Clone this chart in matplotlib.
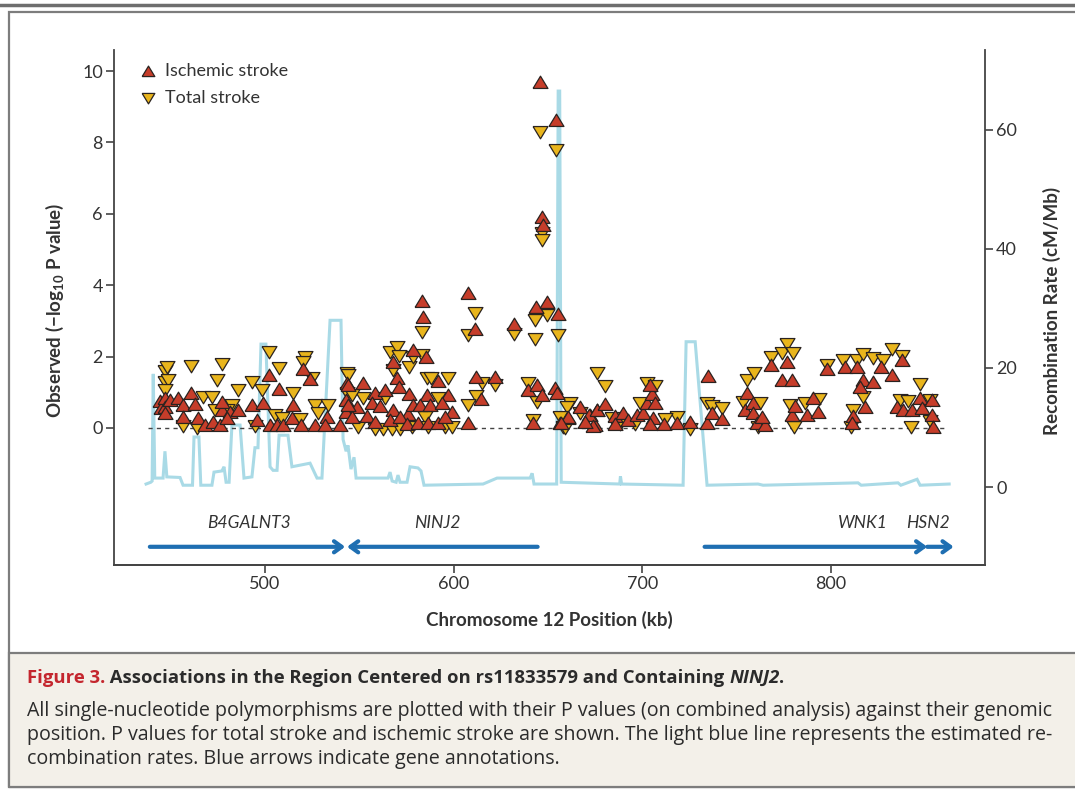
import matplotlib
matplotlib.use("Agg")
import matplotlib.pyplot as plt
from matplotlib import font_manager
from matplotlib.patches import Rectangle
from matplotlib.lines import Line2D
from matplotlib.path import Path

# recombination rate (kb, cM/Mb)
rec_kb = [437.0, 439.5, 440.2, 440.8, 441.6, 446.0, 447.0, 448.0, 455.0, 456.6,
          461.6, 462.4, 465.0, 466.0, 471.9, 473.0, 477.2, 478.3, 479.4, 481.0,
          482.5, 486.8, 488.9, 493.1, 494.7, 496.3, 497.9, 500.5, 502.7, 504.3,
          506.4, 507.5, 512.2, 514.3, 523.9, 527.6, 530.2, 534.5, 540.3, 541.4,
          543.0, 544.0, 545.6, 547.2, 548.3, 553.0, 565.2, 566.3, 567.4, 569.5,
          570.5, 571.6, 575.3, 576.9, 581.1, 582.7, 584.3, 615.6, 623.0, 640.5,
          641.6, 642.6, 654.6, 655.4, 656.2, 657.0, 688.0, 688.4, 689.0, 721.6,
          723.2, 728.0, 734.3, 761.3, 764.0, 814.3, 816.0, 835.5, 837.0, 845.6,
          847.2, 862.6]
rec_rate = [0.5, 0.8, 1.0, 19.0, 1.5, 1.5, 6.0, 1.7, 1.6, 0.3,
            0.3, 8.4, 8.4, 0.3, 0.3, 2.5, 2.7, 3.4, 0.8, 0.8,
            10.4, 10.4, 1.5, 1.7, 6.6, 6.6, 24.0, 24.0, 3.4, 2.8,
            2.8, 8.7, 8.7, 3.4, 4.0, 1.5, 1.5, 28.0, 28.0, 8.0,
            6.0, 7.0, 3.0, 5.0, 1.5, 1.5, 1.5, 2.5, 1.0, 0.8,
            2.0, 0.8, 0.8, 3.4, 3.2, 2.7, 0.3, 0.5, 1.5, 1.5,
            2.3, 0.5, 0.5, 66.5, 66.5, 0.8, 0.5, 1.8, 0.5, 0.3,
            24.4, 24.4, 0.3, 0.5, 0.3, 0.7, 0.3, 0.7, 0.3, 1.3,
            0.3, 0.5]

# ischemic stroke, -log10 P
isch_kb = [444.5, 445.0, 447.0, 447.0, 447.0, 449.7, 454.1, 456.4, 456.7, 460.7,
           462.9, 464.4, 468.2, 472.6, 476.2, 477.1, 477.4, 481.5, 485.9, 479.7,
           493.0, 495.6, 499.1, 502.3, 507.6, 502.7, 506.2, 509.7, 515.0, 514.2,
           519.0, 520.3, 523.9, 526.5, 532.7, 531.8, 539.8, 543.3, 542.8, 542.8,
           583.1, 583.9, 607.7, 611.3, 632.2, 643.5, 578.6, 585.4, 568.0, 569.8,
           571.2, 552.1, 544.2, 558.3, 563.6, 576.5, 585.7, 591.9, 597.2, 611.9,
           621.9, 614.5, 548.6, 556.6, 561.0, 567.7, 576.0, 578.6, 582.2, 587.5,
           593.7, 599.0, 546.0, 553.9, 558.3, 566.3, 571.6, 575.1, 581.3, 586.6,
           591.9, 595.4, 607.4, 641.9, 639.3, 644.0, 646.7, 544.2,
           645.8, 654.3, 647.0, 647.2, 649.3, 655.5, 653.7, 654.6, 656.4, 660.8,
           667.0, 672.3, 674.9, 675.8,
           671.9, 676.2, 680.3, 685.5, 689.6, 692.6, 697.0, 700.5, 702.3, 705.0,
           704.1, 706.7, 705.8, 704.1, 711.5, 718.5, 725.3, 674.1, 669.7, 685.5,
           660.8, 656.9,
           735.0, 734.1, 736.8, 742.1, 755.7, 754.4, 758.9, 758.9, 760.6, 765.1,
           763.3, 768.2, 776.5, 773.9, 779.2, 779.2, 780.9, 787.2, 790.3, 793.3,
           797.8, 807.5, 813.6, 817.1, 815.4, 822.4, 826.4, 832.2, 837.5, 811.8,
           811.0, 818.0, 834.9, 838.4, 842.8, 847.2, 848.1, 853.4, 853.4, 854.2]
isch_p = [0.75, 0.55, 0.83, 0.60, 0.41, 0.78, 0.83, 0.64, 0.32, 0.99,
          0.67, 0.27, 0.08, 0.18, 0.08, 0.50, 0.74, 0.46, 0.50, 0.27,
          0.64, 0.22, 0.69, 1.48, 1.08, 0.08, 0.08, 0.08, 0.64, 0.27,
          0.08, 1.64, 1.36, 0.08, 0.32, 0.08, 0.08, 1.25, 0.78, 0.46,
          3.57, 3.12, 3.79, 2.77, 2.91, 3.40, 2.18, 2.00, 1.86, 1.41,
          1.16, 1.25, 1.20, 0.97, 1.06, 0.95, 0.92, 1.32, 0.92, 1.44,
          1.44, 0.80, 0.60, 0.69, 0.62, 0.50, 0.39, 0.64, 0.64, 0.64,
          0.71, 0.46, 0.32, 0.34, 0.18, 0.22, 0.32, 0.11, 0.13, 0.13,
          0.13, 0.32, 0.13, 0.13, 1.06, 1.20, 0.92, 0.64,
          9.70, 8.63, 5.92, 5.69, 3.54, 3.19, 1.11, 0.97, 0.13, 0.27,
          0.60, 0.36, 0.08, 0.50,
          0.36, 0.50, 0.67, 0.34, 0.41, 0.22, 0.36, 0.43, 0.71, 0.95,
          1.20, 0.71, 0.27, 0.11, 0.11, 0.13, 0.18, 0.06, 0.18, 0.11,
          0.32, 0.13,
          1.46, 0.15, 0.41, 0.24, 0.99, 0.50, 0.69, 0.41, 0.13, 0.08,
          0.32, 1.76, 1.86, 1.33, 1.33, 0.36, 0.62, 0.36, 0.83, 0.46,
          1.64, 1.72, 1.70, 1.34, 1.16, 1.30, 1.70, 1.48, 1.89, 0.34,
          0.13, 0.60, 0.60, 0.50, 0.50, 0.83, 0.55, 0.78, 0.36, 0.04]

# total stroke, -log10 P
total_kb = [447.0, 447.9, 447.0, 448.8, 447.0, 460.7, 477.4, 474.8, 485.6, 467.0,
            471.8, 482.4, 493.0, 498.3, 502.3, 507.6, 515.0, 521.2, 520.0, 524.8,
            526.5, 533.6, 456.7, 463.8, 473.5, 479.7, 494.7, 505.3, 508.9, 518.6,
            528.3, 543.3, 543.3,
            583.1, 611.3, 607.4, 632.2, 643.1, 643.1, 566.3, 569.8, 571.1, 576.5,
            578.6, 583.1, 568.0, 585.7, 588.0, 597.2, 614.9, 621.9, 611.9, 607.4,
            639.3, 644.0, 642.2, 552.1, 546.0, 563.6, 558.3, 562.7, 567.2, 571.6,
            577.8, 584.8, 591.9, 595.4, 599.0, 586.6, 549.5, 544.2,
            645.8, 654.3, 647.0, 647.0, 649.3, 655.5, 661.7, 658.1, 675.8,
            680.3, 659.9, 702.3, 706.7, 698.8, 718.2, 725.3, 656.4, 667.0, 683.8,
            688.2, 696.1, 712.0, 659.0,
            734.1, 736.8, 742.1, 755.7, 759.4, 753.5, 762.4, 761.5, 768.2, 773.9,
            776.5, 779.7, 778.3, 780.6, 786.3, 793.8, 797.8, 806.5, 813.6, 817.1,
            822.1, 827.4, 832.2, 837.5, 817.1, 811.8, 810.6, 836.6, 841.0, 842.4,
            847.2, 852.5, 852.5]
total_p = [1.60, 1.70, 1.30, 1.35, 1.06, 1.74, 1.78, 1.33, 1.05, 0.88,
           0.88, 0.64, 1.30, 1.05, 2.14, 1.67, 0.99, 2.00, 1.84, 1.41,
           0.64, 0.64, 0.06, 0.00, 0.50, 0.50, 0.06, 0.36, 0.27, 0.24,
           0.41, 1.53, 0.98,
           2.70, 3.23, 2.60, 2.62, 3.03, 2.48, 2.14, 2.26, 2.02, 1.72,
           1.98, 2.04, 1.62, 1.39, 1.39, 1.39, 1.25, 1.20, 0.90, 0.64,
           1.25, 0.74, 0.22, 0.83, 0.92, 0.83, -0.04, -0.04, -0.04, -0.04,
           0.04, 0.32, 0.83, 0.04, 0.04, 0.04, 0.04, 1.48,
           8.30, 7.80, 5.45, 5.27, 3.17, 2.60, 0.69, 0.04, 1.53,
           1.18, 0.58, 1.25, 1.18, 0.69, 0.30, -0.04, 0.32, 0.43, 0.27,
           0.11, 0.11, 0.24, 0.00,
           0.71, 0.62, 0.55, 1.33, 1.55, 0.74, 0.69, 0.04, 1.98, 2.11,
           2.35, 2.11, 0.64, 0.04, 0.71, 0.80, 1.76, 1.90, 1.90, 2.07,
           1.95, 1.90, 2.20, 2.02, 0.88, 0.50, 0.02, 0.78, 0.76, 0.04,
           1.23, 0.78, 0.20]

genes = ["B4GALNT3", "NINJ2", "WNK1", "HSN2"]
gene_start = [439.0, 644.5, 733.0, 851.0]
gene_end = [542.5, 543.5, 851.0, 865.0]
gene_label_x = [491.5, 591.5, 817.0, 851.5]

installed = {f.name for f in font_manager.fontManager.ttflist}
main_font = "Lato" if "Lato" in installed else "DejaVu Sans"
cap_font = "Open Sans" if "Open Sans" in installed else main_font
plt.rcParams["font.family"] = [main_font, "DejaVu Sans"]
plt.rcParams["mathtext.fontset"] = "custom"
plt.rcParams["mathtext.bf"] = main_font + ":bold"
plt.rcParams["mathtext.rm"] = main_font

RED = "#c63d2a"
YEL = "#e9b51c"
EDGE = "#2a2320"
BLUE = "#1f6fb2"
RECOMB = "#a9dae6"
DARK = "#333333"

up = Path([(-1, -0.8), (1, -0.8), (0, 0.85), (-1, -0.8)])
down = Path([(-1, 0.8), (1, 0.8), (0, -0.85), (-1, 0.8)])

fig = plt.figure(figsize=(10.75, 7.9), dpi=100)

# frame + caption box
fig.add_artist(Line2D([0, 1], [1 - 5 / 790] * 2, lw=2.5, color="#6e6e6e"))
fig.add_artist(Rectangle((9 / 1075, 1 - 787 / 790), 1.1, (787 - 12) / 790,
                         fill=False, ec="#7d7d7d", lw=1.6))
fig.add_artist(Rectangle((9 / 1075, 1 - 787 / 790), 1.1, (787 - 653) / 790,
                         fc="#f3f0e9", ec="#7d7d7d", lw=1.6))

ax = fig.add_axes([114 / 1075, 1 - 565 / 790, 871 / 1075, 515 / 790])
ax2 = ax.twinx()
ax.set_zorder(ax2.get_zorder() + 1)
ax.patch.set_visible(False)

ax2.plot(rec_kb, rec_rate, color=RECOMB, lw=2.2, solid_joinstyle="miter")

ax.plot([438, 862], [0, 0], ls=(0, (3, 3)), color="#444444", lw=1)
ax.scatter(total_kb, total_p, marker=down, s=115, c=YEL, edgecolors=EDGE,
           linewidths=0.9, label="Total stroke", zorder=3)
ax.scatter(isch_kb, isch_p, marker=up, s=115, c=RED, edgecolors=EDGE,
           linewidths=0.9, label="Ischemic stroke", zorder=4)

# gene annotation arrows
for g, s, e, lx in zip(genes, gene_start, gene_end, gene_label_x):
    ax.annotate("", xy=(e, -3.33), xytext=(s, -3.33),
                arrowprops=dict(arrowstyle="->,head_length=0.55,head_width=0.4",
                                lw=3, color=BLUE, shrinkA=0, shrinkB=0),
                annotation_clip=False)
    ax.text(lx, -2.66, g, style="italic", fontsize=12.5, color=DARK,
            ha="center", va="center")

ax.set_xlim(420, 881.6)
ax.set_ylim(-3.84, 10.59)
ax2.set_ylim(-13.1, 73.4)
ax.set_xticks([500, 600, 700, 800])
ax.set_yticks([0, 2, 4, 6, 8, 10])
ax2.set_yticks([0, 20, 40, 60])

for a in (ax, ax2):
    a.spines["top"].set_visible(False)
    for sp in a.spines.values():
        sp.set_color("#444444")
        sp.set_linewidth(1.3)
    a.tick_params(length=6, width=1.2, color="#444444", labelsize=13,
                  labelcolor=DARK, pad=2)
ax2.spines["left"].set_visible(False)
ax.spines["right"].set_visible(False)

h, l = ax.get_legend_handles_labels()
ax.legend(h[::-1], l[::-1], loc="upper left", bbox_to_anchor=(0.03, 0.975),
          frameon=False, fontsize=13, handlelength=0.9, handletextpad=0.45,
          labelspacing=0.62, borderaxespad=0, borderpad=0, labelcolor=DARK,
          markerscale=0.85)

fig.text(55 / 1075, 1 - 310 / 790, r"Observed (−log$_{\mathbf{10}}$ P value)",
         rotation=90, ha="center", va="center", fontsize=13.5,
         fontweight="bold", color=DARK)
fig.text(1052 / 1075, 1 - 311 / 790, "Recombination Rate (cM/Mb)",
         rotation=90, ha="center", va="center", fontsize=13.5,
         fontweight="bold", color=DARK)
fig.text(549 / 1075, 1 - 620 / 790, "Chromosome 12 Position (kb)",
         ha="center", va="center", fontsize=13.5, fontweight="bold", color=DARK)

# caption
ttl = dict(fontsize=13.3, family=[cap_font, "DejaVu Sans"], color="#2b2b2b",
           fontweight="bold")
t1 = fig.text(27 / 1075, 1 - 678 / 790, "Figure 3.", va="center", ha="left",
              **dict(ttl, color="#c4262e"))
t2 = ax.annotate(" Associations in the Region Centered on rs11833579 and Containing ",
                 xy=(1, 0), xycoords=t1, va="bottom", ha="left", **ttl)
t3 = ax.annotate("NINJ2", xy=(1, 0), xycoords=t2, va="bottom", ha="left",
                 style="italic", **ttl)
ax.annotate(".", xy=(1, 0), xycoords=t3, va="bottom", ha="left", **ttl)

body = ["All single-nucleotide polymorphisms are plotted with their P values (on combined analysis) against their genomic",
        "position. P values for total stroke and ischemic stroke are shown. The light blue line represents the estimated re-",
        "combination rates. Blue arrows indicate gene annotations."]
for i, line in enumerate(body):
    fig.text(27 / 1075, 1 - (711 + 24 * i) / 790, line, va="center",
             ha="left", fontsize=14.1, family=[cap_font, "DejaVu Sans"],
             color="#2b2b2b")

fig.savefig("out.png", dpi=100)
